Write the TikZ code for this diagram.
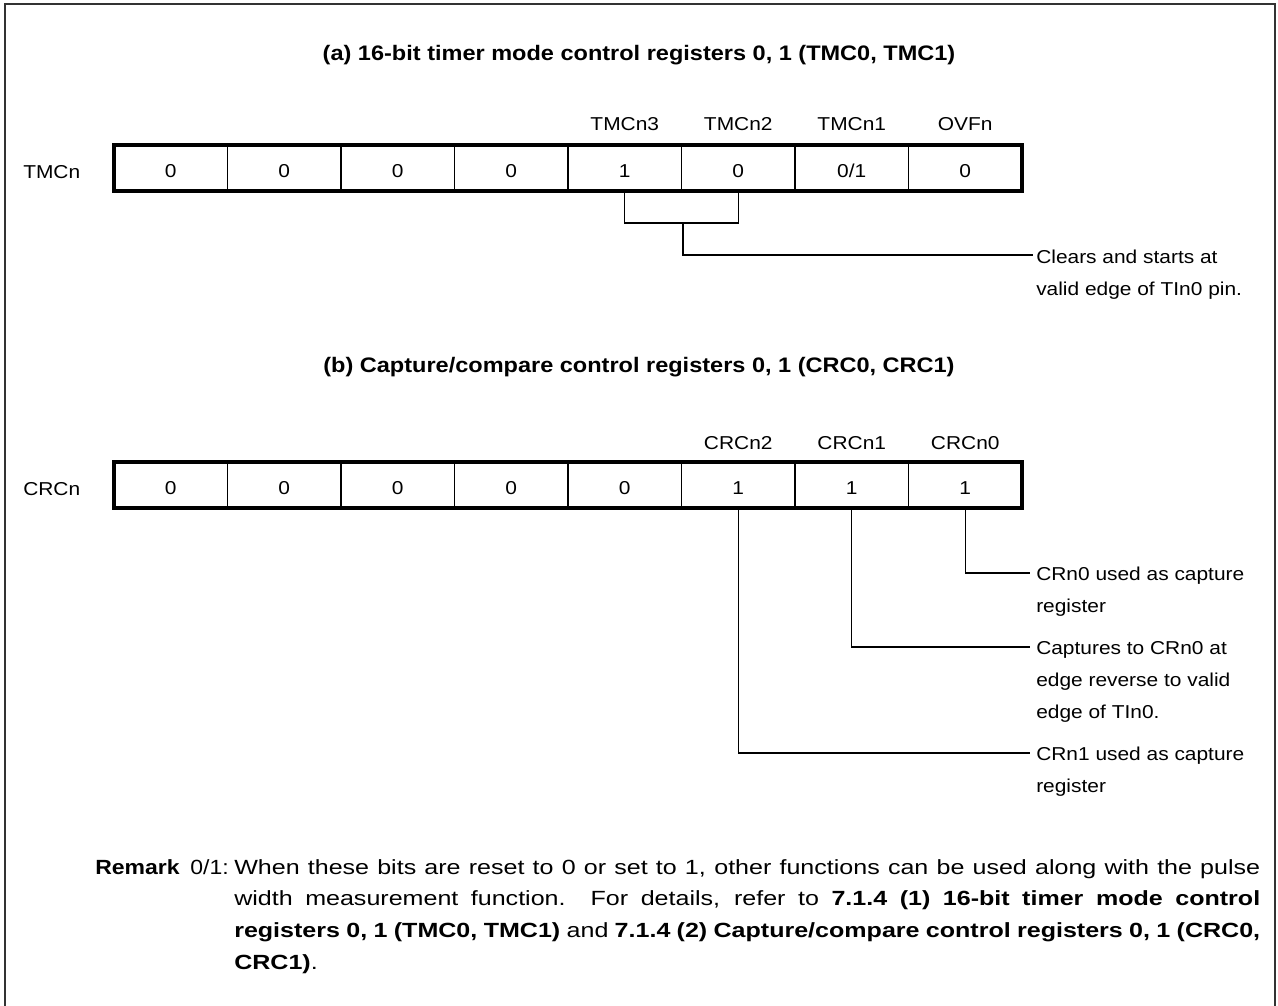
\documentclass[tikz,border=0pt]{standalone}
\usepackage{fontspec}
\setmainfont[FakeStretch=1.12]{Liberation Sans}
\newfontfamily\remfont[FakeStretch=1.22]{Liberation Sans}
\usetikzlibrary{calc}
\begin{document}
\begin{tikzpicture}[x=0.75pt,y=-0.75pt,
  frame/.style={line width=1.5pt, draw=black!80},
  cell/.style={draw, line width=0.9pt, minimum width=85.125pt, minimum height=34.5pt,
    inner sep=0pt, outer sep=0pt, font=\fontsize{14}{17}\selectfont, text height=13.5pt, text depth=0pt},
  regbox/.style={line width=2.4pt},
  lbl/.style={inner sep=0pt, anchor=base, font=\fontsize{14}{17}\selectfont},
  regname/.style={inner sep=0pt, anchor=base west, font=\fontsize{14}{17}\selectfont},
  ttl/.style={inner sep=0pt, anchor=base, font=\fontsize{15.75}{19}\selectfont\bfseries},
  conn/.style={line width=0.95pt},
  desc/.style={inner sep=0pt, anchor=base west, font=\fontsize{14}{24}\selectfont},
  rem/.style={inner sep=0pt, anchor=base west, font=\remfont\fontsize{15.4}{23.8}\selectfont}
]
\useasboundingbox (0,0) rectangle (1278,1006);
% frame
\draw[frame] (5,1006) -- (5,4) -- (1275,4) -- (1275,1006);

% ---------- (a) ----------
\node[ttl] (ttla) at (639,60.5) {(a) 16-bit timer mode control registers 0, 1 (TMC0, TMC1)};
\node[regname] (tmcn) at (23,178) {TMCn};
\node[cell] (a1) at (170.75,168) {0};
\node[cell] (a2) at (284.25,168) {0};
\node[cell] (a3) at (397.75,168) {0};
\node[cell] (a4) at (511.25,168) {0};
\node[cell] (a5) at (624.75,168) {1};
\node[cell] (a6) at (738.25,168) {0};
\node[cell] (a7) at (851.75,168) {0/1};
\node[cell] (a8) at (965.25,168) {0};
\draw[regbox] (a1.north west) rectangle (a8.south east);
\node[lbl] (na5) at (624.75,131) {TMCn3};
\node[lbl] (na6) at (738.25,131) {TMCn2};
\node[lbl] (na7) at (851.75,131) {TMCn1};
\node[lbl] (na8) at (965.25,131) {OVFn};

\node[desc] (ta) at (1036,263) {\vtop{\hbox{Clears and starts at}\hbox{valid edge of TIn0 pin.}}};
\draw[conn] (a5.south) -- ++(0,32) -| (a6.south);
\coordinate (ja) at ($(a5.south)!0.5!(a6.south)+(1.5,32)$);
\draw[conn] (ja) |- ($(ta.base west)+(-3,-8)$);

% ---------- (b) ----------
\node[ttl] (ttlb) at (639,372.5) {(b) Capture/compare control registers 0, 1 (CRC0, CRC1)};
\node[regname] (crcn) at (23,495) {CRCn};
\node[cell] (b1) at (170.75,485) {0};
\node[cell] (b2) at (284.25,485) {0};
\node[cell] (b3) at (397.75,485) {0};
\node[cell] (b4) at (511.25,485) {0};
\node[cell] (b5) at (624.75,485) {0};
\node[cell] (b6) at (738.25,485) {1};
\node[cell] (b7) at (851.75,485) {1};
\node[cell] (b8) at (965.25,485) {1};
\draw[regbox] (b1.north west) rectangle (b8.south east);
\node[lbl] (nb6) at (738.25,449) {CRCn2};
\node[lbl] (nb7) at (851.75,449) {CRCn1};
\node[lbl] (nb8) at (965.25,449) {CRCn0};

\node[desc] (tb0) at (1036,580) {\vtop{\hbox{CRn0 used as capture}\hbox{register}}};
\node[desc] (tb1) at (1036,654) {\vtop{\hbox{Captures to CRn0 at}\hbox{edge reverse to valid}\hbox{edge of TIn0.}}};
\node[desc] (tb2) at (1036,760) {\vtop{\hbox{CRn1 used as capture}\hbox{register}}};
\draw[conn] (b8.south) |- ($(tb0.base west)+(-6,-7)$);
\draw[conn] (b7.south) |- ($(tb1.base west)+(-6,-7)$);
\draw[conn] (b6.south) |- ($(tb2.base west)+(-6,-7)$);

% ---------- Remark ----------
\node[inner sep=0pt, anchor=base west, font=\fontsize{15.4}{24}\selectfont\bfseries] (rk) at (95,874) {Remark};
\node[inner sep=0pt, anchor=base east, font=\fontsize{15.4}{24}\selectfont] (r01) at (229,874) {0/1:};
\node[rem] (rtext) at (234,874) {\vtop{\hsize=769.5pt
\hbox to\hsize{When these bits are reset to 0 or set to 1, other functions can be used along with the pulse}
\hbox to\hsize{width measurement function.\ \ For details, refer to \textbf{7.1.4 (1) 16-bit timer mode control}}
\hbox to\hsize{\textbf{registers 0, 1 (TMC0, TMC1)} and \textbf{7.1.4 (2) Capture/compare control registers 0, 1 (CRC0,}}
\hbox{\textbf{CRC1)}.}}};
\end{tikzpicture}
\end{document}
